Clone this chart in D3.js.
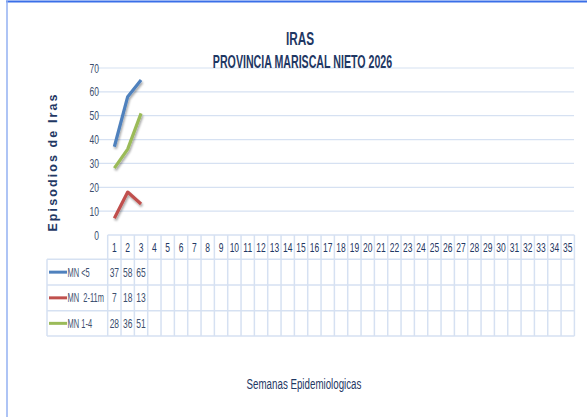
<!DOCTYPE html>
<html>
<head>
<meta charset="utf-8">
<script src="https://cdn.jsdelivr.net/npm/d3@7"></script>
<style>
  body { margin: 0; background: #fff; }
  text { font-family: "Liberation Sans", Arial, sans-serif; }
</style>
</head>
<body>
<script>
// line chart + data table (Excel style)
var w = 587, h = 417;

// data
var weeks = d3.range(1, 36);
var seriesNames = ["MN <5", "MN  2-11m", "MN 1-4"];
var mnMenor5 = [37, 58, 65];
var mn2a11m = [7, 18, 13];
var mn1a4 = [28, 36, 51];
var yTicks = [0, 10, 20, 30, 40, 50, 60, 70];
var colors = ["#4f81bd", "#c0504d", "#9bbb59"];

var series = [mnMenor5, mn2a11m, mn1a4].map(function(v, i) {
  return { name: seriesNames[i], values: v, color: colors[i] };
});

var navy = "#1f3864";
var slate = "#3b4e6e";
var gridCol = "#d6e1f2";

// Calibri-like narrow look: squeeze text horizontally
function squeeze(sel, sx) {
  sel.each(function() {
    var t = d3.select(this);
    var tx = +t.attr("x") || 0, ty = +t.attr("y") || 0;
    t.attr("x", 0).attr("y", 0)
     .attr("transform", "translate(" + tx + "," + ty + ") scale(" + sx + ",1)");
  });
}

var svg = d3.select("body").append("svg")
  .attr("width", w)
  .attr("height", h);

// frame
svg.append("line").attr("x1", 6).attr("x2", w).attr("y1", 1.5).attr("y2", 1.5)
  .attr("stroke", "#3a6fe8").attr("stroke-width", 2);
svg.append("line").attr("x1", 7).attr("x2", 7).attr("y1", 1).attr("y2", h)
  .attr("stroke", "#93b1f2").attr("stroke-width", 1.5);

// scales
var x = d3.scaleBand().domain(weeks).range([107.7, 574.4]);
var y = d3.scaleLinear().domain([0, 70]).range([235, 68]);

// gridlines
svg.append("g").selectAll("line")
  .data(yTicks.slice(1))
  .enter().append("line")
  .attr("x1", 97).attr("x2", 574)
  .attr("y1", function(d) { return y(d); })
  .attr("y2", function(d) { return y(d); })
  .attr("stroke", gridCol).attr("stroke-width", 1.2);

// y axis labels
var yAxis = d3.axisLeft(y).tickValues(yTicks).tickSize(0).tickPadding(0);
var gy = svg.append("g").attr("transform", "translate(99,0)").call(yAxis);
gy.select(".domain").remove();
gy.selectAll("text")
  .attr("font-size", "12.5px")
  .attr("font-family", "Liberation Sans, sans-serif")
  .attr("fill", slate)
  .attr("transform", "scale(0.68,1)");

// titles
var t1 = svg.append("text").text("IRAS")
  .attr("x", 300).attr("y", 45)
  .attr("text-anchor", "middle")
  .attr("font-size", "19px").attr("font-weight", "bold")
  .attr("fill", navy);
var t2 = svg.append("text").text("PROVINCIA MARISCAL NIETO 2026")
  .attr("x", 302.5).attr("y", 67.5)
  .attr("text-anchor", "middle")
  .attr("font-size", "19px").attr("font-weight", "bold")
  .attr("fill", navy);
squeeze(t1, 0.62);
squeeze(t2, 0.56);

svg.append("text").text("Episodios de Iras")
  .attr("transform", "translate(57,162) rotate(-90)")
  .attr("text-anchor", "middle")
  .attr("font-family", "DejaVu Sans, sans-serif")
  .attr("font-size", "12.5px").attr("font-weight", "bold")
  .attr("letter-spacing", "2.1px")
  .attr("fill", navy);

var xt = svg.append("text").text("Semanas Epidemiologicas")
  .attr("x", 304).attr("y", 389)
  .attr("text-anchor", "middle")
  .attr("font-size", "15px")
  .attr("fill", navy);
squeeze(xt, 0.65);

// lines
var line = d3.line()
  .x(function(d, i) { return x(weeks[i]) + x.bandwidth() / 2; })
  .y(function(d) { return y(d); });

var shadow = svg.append("defs").append("filter").attr("id", "sh")
  .attr("x", "-20%").attr("y", "-20%").attr("width", "140%").attr("height", "140%");
shadow.append("feDropShadow").attr("dx", 1).attr("dy", 2).attr("stdDeviation", 1.2)
  .attr("flood-color", "#000").attr("flood-opacity", 0.35);

svg.append("g").selectAll("path")
  .data(series)
  .enter().append("path")
  .attr("d", function(d) { return line(d.values); })
  .attr("fill", "none")
  .attr("stroke", function(d) { return d.color; })
  .attr("stroke-width", 3.2)
  .attr("stroke-linejoin", "round")
  .attr("filter", "url(#sh)");

// data table
var rowTop = [235, 259.3, 285, 310.7, 336];
var tbl = svg.append("g");
var legL = 47;
var right = x.range()[1];

// horizontal lines
tbl.selectAll("line.h")
  .data(rowTop)
  .enter().append("line").attr("class", "h")
  .attr("x1", function(d, i) { return i === 0 ? x.range()[0] : legL; })
  .attr("x2", right)
  .attr("y1", function(d) { return d; }).attr("y2", function(d) { return d; })
  .attr("stroke", gridCol).attr("stroke-width", 1.5);

// vertical lines
var vx = weeks.map(function(d) { return x(d); }).concat([right]);
tbl.selectAll("line.v")
  .data(vx)
  .enter().append("line").attr("class", "v")
  .attr("x1", function(d) { return d; }).attr("x2", function(d) { return d; })
  .attr("y1", rowTop[0]).attr("y2", rowTop[4])
  .attr("stroke", gridCol).attr("stroke-width", 1.5);
tbl.append("line")
  .attr("x1", legL).attr("x2", legL).attr("y1", rowTop[1]).attr("y2", rowTop[4])
  .attr("stroke", gridCol).attr("stroke-width", 1.5);

// header week labels
var wk = tbl.selectAll("text.wk")
  .data(weeks)
  .enter().append("text").attr("class", "wk")
  .text(function(d) { return d; })
  .attr("x", function(d) { return x(d) + x.bandwidth() / 2; })
  .attr("y", (rowTop[0] + rowTop[1]) / 2 + 4.5)
  .attr("text-anchor", "middle")
  .attr("font-size", "12.5px")
  .attr("fill", navy);
squeeze(wk, 0.68);

// series rows
series.forEach(function(s, r) {
  var cy = (rowTop[r + 1] + rowTop[r + 2]) / 2;
  tbl.append("line")
    .attr("x1", 49).attr("x2", 67).attr("y1", cy).attr("y2", cy)
    .attr("stroke", s.color).attr("stroke-width", 3);
  var lab = tbl.append("text").text(s.name)
    .attr("x", 67.5).attr("y", cy + 4.5)
    .attr("font-size", "12.5px")
    .style("white-space", "pre")
    .attr("fill", slate);
  squeeze(lab, 0.6);
  var vals = tbl.selectAll("text.v" + r)
    .data(s.values)
    .enter().append("text")
    .text(function(d) { return d; })
    .attr("x", function(d, i) { return x(weeks[i]) + x.bandwidth() / 2; })
    .attr("y", cy + 4.5)
    .attr("text-anchor", "middle")
    .attr("font-size", "12.5px")
    .attr("fill", slate);
  squeeze(vals, 0.68);
});
</script>
</body>
</html>
